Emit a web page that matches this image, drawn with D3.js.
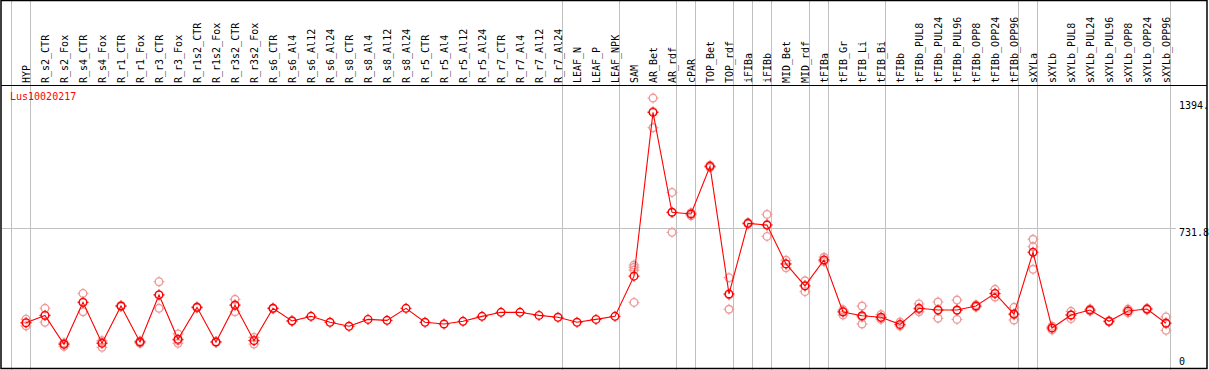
<!DOCTYPE html>
<html>
<head>
<meta charset="utf-8">
<script src="https://cdn.jsdelivr.net/npm/d3@7"></script>
<style>
  body { margin: 0; background: #fff; }
  text { font-family: "DejaVu Sans Mono", monospace; font-size: 10px; }
</style>
</head>
<body>
<script>
// Sample names, in column order
var categories = ["HYP", "R_s2_CTR", "R_s2_Fox", "R_s4_CTR", "R_s4_Fox", "R_r1_CTR", "R_r1_Fox",
  "R_r3_CTR", "R_r3_Fox", "R_r1s2_CTR", "R_r1s2_Fox", "R_r3s2_CTR", "R_r3s2_Fox",
  "R_s6_CTR", "R_s6_Al4", "R_s6_Al12", "R_s6_Al24", "R_s8_CTR", "R_s8_Al4", "R_s8_Al12", "R_s8_Al24",
  "R_r5_CTR", "R_r5_Al4", "R_r5_Al12", "R_r5_Al24", "R_r7_CTR", "R_r7_Al4", "R_r7_Al12", "R_r7_Al24",
  "LEAF_N", "LEAF_P", "LEAF_NPK", "SAM", "AR_Bet", "AR_rdf", "cPAR", "TOP_Bet", "TOP_rdf",
  "iFIBa", "iFIBb", "MID_Bet", "MID_rdf", "tFIBa", "tFIB_Gr", "tFIB_Li", "tFIB_Bi", "tFIBb",
  "tFIBb_PUL8", "tFIBb_PUL24", "tFIBb_PUL96", "tFIBb_OPP8", "tFIBb_OPP24", "tFIBb_OPP96",
  "sXYLa", "sXYLb", "sXYLb_PUL8", "sXYLb_PUL24", "sXYLb_PUL96", "sXYLb_OPP8", "sXYLb_OPP24", "sXYLb_OPP96"];

// Mean expression per sample
var means = [237, 275, 124, 343, 129, 324, 136, 382, 150, 317, 136, 328, 143,
  312, 246, 270, 239, 218, 254, 249, 312,
  239, 230, 244, 270, 291, 291, 275, 265,
  239, 254, 270, 480, 1336, 814, 805, 1054, 387,
  756, 747, 544, 429, 565, 293, 273, 265, 228,
  312, 303, 303, 324, 390, 282,
  605, 209, 277, 303, 244, 298, 308, 234];

// Replicate values per sample
var replicates = [[255, 235, 220], [312, 275, 239], [113, 128, 131], [390, 345, 294], [108, 136, 143],
  [327, 321], [129, 140, 139], [451, 383, 312], [178, 143, 129], [320, 314], [134, 138],
  [359, 331, 294], [160, 144, 125],
  [314, 310], [248, 244], [], [], [], [], [], [],
  [], [], [], [], [], [], [], [],
  [], [], [], [538, 526, 512, 343], [1411, 1341, 1256], [918, 814, 709], [796, 812], [1060, 1048], [472, 382, 307],
  [760, 752], [803, 750, 688], [563, 544, 524], [456, 432, 399], [579, 560, 556], [277, 298, 304],
  [324, 266, 230], [279, 262, 254], [240, 225, 219],
  [335, 307, 294], [345, 304, 260], [355, 300, 254], [330, 318], [411, 388, 371], [317, 278, 251],
  [673, 634, 516], [199, 218], [296, 277, 258], [297, 309], [247, 241], [308, 288], [312, 304], [267, 236, 197]];

// Samples closing a group (a grey line follows them)
var groupEnds = ["HYP", "R_r7_Al24", "LEAF_NPK", "AR_rdf", "cPAR", "TOP_rdf", "iFIBa", "iFIBb",
  "MID_rdf", "tFIBa", "tFIB_Bi", "tFIBb_OPP96", "sXYLa", "sXYLb_OPP96"];

// Value axis labels
var yTickValues = [1394, 731.8, 0];
var yTickLabels = ["1394.", "731.8", "0"];
var yMax = 1463.6;
var geneName = "Lus10020217";

var svgWidth = 1209;
var svgHeight = 370;
var headerBottom = 85.5;

var svg = d3.select("body")
            .append("svg")
            .attr("width", svgWidth)
            .attr("height", svgHeight);

var x = d3.scalePoint()
          .domain(categories)
          .range([26, 1166]);

var y = d3.scaleLinear()
          .domain([0, yMax])
          .range([368, 88]);

// grey group separators
var sepX = [x(categories[0]) - x.step() + 4.5].concat(groupEnds.map(function(c) { return x(c) + 4.5; }));
svg.selectAll(".sep")
   .data(sepX)
   .enter()
   .append("line")
   .attr("x1", function(d) { return d; })
   .attr("x2", function(d) { return d; })
   .attr("y1", 0)
   .attr("y2", svgHeight)
   .attr("stroke", "#c0c0c0")
   .attr("stroke-width", 1);

// mid gridline
svg.append("line")
   .attr("x1", 2)
   .attr("x2", 1176)
   .attr("y1", Math.round(y(yTickValues[1])) + 0.5)
   .attr("y2", Math.round(y(yTickValues[1])) + 0.5)
   .attr("stroke", "#c0c0c0")
   .attr("stroke-width", 1);

// frame and header line
svg.append("rect")
   .attr("x", 1)
   .attr("y", 0.5)
   .attr("width", 1206)
   .attr("height", 368)
   .attr("fill", "none")
   .attr("stroke", "#000")
   .attr("stroke-width", 1.5);

svg.append("line")
   .attr("x1", 1)
   .attr("x2", 1207)
   .attr("y1", headerBottom)
   .attr("y2", headerBottom)
   .attr("stroke", "#000")
   .attr("stroke-width", 1);

// rotated sample labels
svg.selectAll(".cat")
   .data(categories)
   .enter()
   .append("text")
   .attr("transform", function(d) { return "translate(" + (x(d) + 3.5) + ",83) rotate(-90)"; })
   .attr("fill", "#000")
   .text(function(d) { return d; });

// value labels on the right
svg.selectAll(".ylab")
   .data(yTickValues)
   .enter()
   .append("text")
   .attr("x", 1179)
   .attr("y", function(d, i) { return i == 2 ? y(d) - 3 : y(d) + 7.5; })
   .attr("fill", "#000")
   .text(function(d, i) { return yTickLabels[i]; });

// gene name
svg.append("text")
   .attr("x", 10)
   .attr("y", 100)
   .attr("fill", "#ff0000")
   .text(geneName);

// draws a circle marker with small ticks
function marker(g, cx, cy, color) {
  g.append("circle")
   .attr("cx", cx)
   .attr("cy", cy)
   .attr("r", 3.8)
   .attr("fill", "none")
   .attr("stroke", color)
   .attr("stroke-width", 1.4);
  [[0, -1], [0, 1], [-1, 0], [1, 0]].forEach(function(v) {
    g.append("line")
     .attr("x1", cx + v[0] * 3.8)
     .attr("y1", cy + v[1] * 3.8)
     .attr("x2", cx + v[0] * 5.5)
     .attr("y2", cy + v[1] * 5.5)
     .attr("stroke", color)
     .attr("stroke-width", 1);
  });
}

// replicate markers
var repGroup = svg.append("g");
replicates.forEach(function(reps, i) {
  reps.forEach(function(v) {
    marker(repGroup, x(categories[i]), y(v), "#ee9a9a");
  });
});

// mean line
var line = d3.line()
             .x(function(d, i) { return x(categories[i]); })
             .y(function(d) { return y(d); });

svg.append("path")
   .datum(means)
   .attr("d", line)
   .attr("fill", "none")
   .attr("stroke", "#ff0000")
   .attr("stroke-width", 1.1);

// mean markers
var meanGroup = svg.append("g");
means.forEach(function(v, i) {
  marker(meanGroup, x(categories[i]), y(v), "#ff0000");
});
</script>
</body>
</html>
